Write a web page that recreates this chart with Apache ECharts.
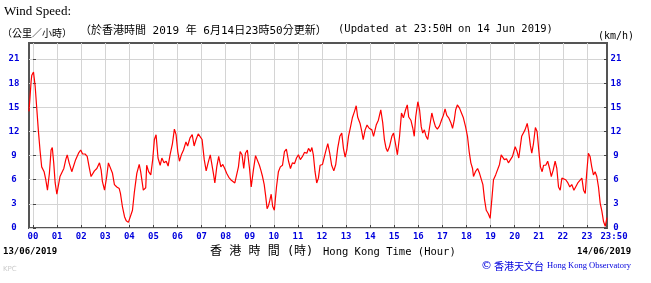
<!DOCTYPE html>
<html>
<head>
<meta charset="utf-8">
<script src="https://cdn.jsdelivr.net/npm/echarts@6/dist/echarts.min.js"></script>
<style>html,body{margin:0;padding:0;background:#fff;}#c{width:651px;height:283px;}</style>
</head>
<body>
<div id="c"></div>
<script>
// time in hours (of 14/06/2019, starting 23:50 on 13/06), wind speed km/h
const timeHours = [-0.17,-0.13,-0.08,-0.05,0.02,0.09,0.15,0.22,0.29,0.36,0.46,0.53,0.6,0.68,0.75,0.8,0.86,0.92,0.99,1.05,1.12,1.19,1.28,1.36,1.42,1.5,1.61,1.68,1.77,1.89,1.98,2.06,2.16,2.25,2.33,2.41,2.48,2.55,2.65,2.76,2.83,2.88,2.97,3.06,3.13,3.21,3.3,3.38,3.48,3.58,3.63,3.71,3.8,3.87,3.96,4.03,4.13,4.21,4.31,4.41,4.47,4.58,4.68,4.72,4.8,4.89,4.97,5.04,5.11,5.19,5.28,5.35,5.44,5.53,5.61,5.69,5.79,5.87,5.94,6.01,6.08,6.16,6.25,6.35,6.42,6.52,6.61,6.69,6.77,6.86,6.94,7.02,7.11,7.19,7.27,7.36,7.42,7.49,7.55,7.63,7.71,7.8,7.88,7.96,8.04,8.13,8.21,8.29,8.38,8.46,8.53,8.6,8.68,8.75,8.82,8.9,8.99,9.06,9.15,9.24,9.32,9.4,9.46,9.53,9.6,9.66,9.72,9.78,9.83,9.89,9.95,10.02,10.11,10.19,10.27,10.36,10.44,10.52,10.61,10.69,10.77,10.86,10.94,11.02,11.1,11.19,11.27,11.37,11.44,11.52,11.58,11.64,11.71,11.78,11.85,11.92,12.02,12.09,12.15,12.24,12.32,12.4,12.49,12.57,12.65,12.74,12.82,12.89,12.96,13.03,13.1,13.18,13.26,13.35,13.42,13.48,13.58,13.65,13.71,13.79,13.87,13.96,14.07,14.14,14.25,14.34,14.44,14.52,14.59,14.66,14.72,14.8,14.9,14.97,15.05,15.13,15.22,15.3,15.38,15.47,15.54,15.6,15.69,15.77,15.83,15.89,15.98,16.05,16.12,16.18,16.25,16.32,16.39,16.46,16.56,16.63,16.71,16.79,16.88,16.96,17.04,17.11,17.18,17.26,17.35,17.42,17.49,17.55,17.62,17.71,17.79,17.87,17.96,18.04,18.11,18.18,18.25,18.29,18.37,18.46,18.54,18.61,18.68,18.75,18.82,18.9,18.98,19.05,19.12,19.21,19.28,19.37,19.44,19.5,19.57,19.66,19.74,19.82,19.91,20.02,20.1,20.17,20.24,20.29,20.36,20.43,20.52,20.58,20.65,20.71,20.78,20.86,20.93,21.0,21.07,21.14,21.2,21.29,21.37,21.45,21.52,21.6,21.68,21.75,21.82,21.89,21.96,22.04,22.12,22.21,22.29,22.37,22.46,22.54,22.62,22.7,22.79,22.86,22.93,22.99,23.06,23.13,23.2,23.27,23.34,23.41,23.48,23.55,23.62,23.69,23.76,23.83];
const windSpeed = [14.5,16.0,18.2,19.0,19.4,17.6,15.1,12.2,9.7,7.6,7.0,6.0,4.7,6.8,9.7,10.0,8.1,5.6,4.2,4.1,6.4,6.6,7.4,8.5,9.1,8.1,7.0,7.0,8.5,9.3,9.7,9.2,9.2,8.9,7.6,6.4,6.4,7.1,7.4,8.1,7.2,5.8,4.7,6.4,8.1,8.2,6.8,5.4,5.1,4.9,4.3,2.7,1.4,0.9,0.7,0.5,2.2,4.5,6.8,7.9,7.0,4.7,5.0,7.8,7.0,6.6,8.5,11.0,11.6,8.7,7.8,8.7,8.1,8.3,7.7,9.1,10.5,12.3,11.6,9.5,8.3,9.1,9.7,10.7,10.2,11.2,11.6,10.2,11.0,11.7,11.9,11.0,8.5,7.1,8.1,9.1,8.9,6.8,5.6,7.6,8.9,7.6,7.9,7.4,6.8,6.3,6.0,6.1,5.6,5.6,7.6,9.5,9.1,7.4,9.3,9.7,7.4,5.1,7.2,9.0,8.8,7.8,7.2,6.4,5.4,4.0,2.4,2.8,3.4,4.2,2.7,2.2,5.1,7.0,7.6,7.8,9.5,9.8,8.3,7.4,8.1,8.0,8.7,9.1,8.5,8.9,9.4,9.3,9.9,9.5,10.0,9.1,7.0,5.6,6.2,7.8,7.9,7.8,9.5,10.5,9.3,7.8,7.1,7.9,9.9,11.4,11.8,9.9,8.8,9.7,11.4,12.5,13.7,14.5,15.2,13.8,13.0,12.0,11.0,12.2,12.8,12.4,12.2,11.4,12.8,13.4,14.7,13.1,11.0,9.9,9.5,10.1,11.4,11.8,10.5,9.1,11.4,14.3,13.7,14.7,15.3,13.8,13.4,12.4,11.4,13.8,15.7,14.7,12.6,11.8,12.2,11.4,11.0,12.4,14.3,13.4,12.6,12.3,12.7,13.4,14.0,14.8,14.0,13.7,13.1,12.4,13.4,14.7,15.3,14.9,14.3,13.7,12.6,11.4,9.5,8.1,7.4,6.4,7.0,7.4,6.8,7.0,5.4,3.5,2.2,1.8,1.2,3.5,6.0,6.6,6.8,7.9,9.1,9.3,8.5,8.6,8.1,8.0,8.9,10.1,9.5,8.7,10.3,11.4,11.2,12.2,13.0,12.0,10.3,9.3,10.5,12.5,12.0,9.7,7.6,7.0,7.8,7.8,8.3,7.4,6.4,7.2,8.3,7.4,5.1,4.7,6.2,6.4,6.0,5.6,5.1,5.4,4.7,4.7,5.6,5.8,6.2,4.7,4.3,6.8,9.3,8.9,7.6,6.6,7.0,6.4,5.1,3.1,2.1,0.8,0.2,1.3];
const hourTicks = [0,1,2,3,4,5,6,7,8,9,10,11,12,13,14,15,16,17,18,19,20,21,22,23];
const endHour = 23 + 50/60;
const startHour = -10/60;
const yTicks = [0,3,6,9,12,15,18,21];
const yMax = 23;

const chart = echarts.init(document.getElementById('c'), null, {renderer:'canvas'});
const blue = '#0000dd';
const gridColor = '#d4d4d4';
const labFont = {color: blue, fontFamily: 'DejaVu Sans Mono', fontWeight: 'bold', fontSize: 9};
const mono = "'DejaVu Sans Mono','Noto Sans CJK TC'";
const pad2 = v => (v < 10 ? '0' : '') + Math.round(v);

const opt = {
  animation: false,
  grid: {left: 29, right: 44, top: 43, bottom: 55, show: true, borderColor: '#555', borderWidth: 2, backgroundColor: '#fff'},
  xAxis: [{
    type: 'value', min: startHour, max: endHour,
    axisLine: {show: false},
    axisTick: {show: true, inside: true, length: 3, lineStyle: {color: '#444'}, customValues: hourTicks},
    splitLine: {show: true, lineStyle: {color: gridColor, width: 1}},
    axisLabel: Object.assign({margin: 4, customValues: hourTicks.concat([endHour]),
      formatter: v => v > 23.5 ? '{e|23:50}' : pad2(v),
      rich: {e: Object.assign({padding: [0,0,0,14]}, labFont)}}, labFont)
  }],
  yAxis: [
    {type: 'value', min: 0, max: yMax, position: 'left',
     axisLine: {show: false},
     axisTick: {show: true, inside: true, length: 3, lineStyle: {color: '#444'}, customValues: yTicks},
     splitLine: {show: true, lineStyle: {color: gridColor, width: 1}},
     axisLabel: Object.assign({margin: 15, align: 'center', customValues: yTicks}, labFont)},
    {type: 'value', min: 0, max: yMax, position: 'right',
     axisLine: {show: false},
     axisTick: {show: true, inside: true, length: 3, lineStyle: {color: '#444'}, customValues: yTicks},
     splitLine: {show: false},
     axisLabel: Object.assign({margin: 9, align: 'center', customValues: yTicks}, labFont)}
  ],
  series: [{
    type: 'line', showSymbol: false, symbol: 'none',
    data: timeHours.map((t, i) => [t, windSpeed[i]]),
    lineStyle: {color: '#ff0000', width: 1.2},
    clip: true
  }],
  graphic: [
    {type:'text', left: 4, top: 5, style:{text:'Wind Speed:', font:"13px 'Liberation Serif'", fill:'#000'}},
    {type:'text', x: 2, y: 33, style:{text:'（公里／小時）', fontFamily:'Noto Sans CJK TC', fontSize:10, fill:'#000', verticalAlign:'middle'}},
    {type:'text', x: 80, y: 31, style:{text:'（於香港時間 2019 年 6月14日23時50分更新）', fontFamily: mono, fontSize:11, fill:'#000', verticalAlign:'middle'}},
    {type:'text', x: 338, y: 29, style:{text:'(Updated at 23:50H on 14 Jun 2019)', fontFamily:'DejaVu Sans Mono', fontSize:10.5, fill:'#000', verticalAlign:'middle'}},
    {type:'text', x: 598, y: 36, style:{text:'(km/h)', fontFamily:'DejaVu Sans Mono', fontSize:10, fill:'#000', verticalAlign:'middle'}},
    {type:'text', x: 3, y: 252, style:{text:'13/06/2019', fontFamily:'DejaVu Sans Mono', fontWeight:'bold', fontSize:9, fill:'#000', verticalAlign:'middle'}},
    {type:'text', x: 577, y: 252, style:{text:'14/06/2019', fontFamily:'DejaVu Sans Mono', fontWeight:'bold', fontSize:9, fill:'#000', verticalAlign:'middle'}},
    {type:'text', x: 210, y: 252, style:{text:'香 港 時 間 (時)', fontFamily: mono, fontSize:12, fill:'#000', verticalAlign:'middle'}},
    {type:'text', x: 323, y: 252, style:{text:'Hong Kong Time (Hour)', fontFamily:'DejaVu Sans Mono', fontSize:10.5, fill:'#000', verticalAlign:'middle'}},
    {type:'text', x: 481, y: 266, style:{text:'©', fontFamily:'DejaVu Sans', fontSize:11, fill:blue, verticalAlign:'middle'}},
    {type:'text', x: 494, y: 266, style:{text:'香港天文台', fontFamily:'Noto Sans CJK TC', fontSize:10, fill:blue, verticalAlign:'middle'}},
    {type:'text', x: 547, y: 266, style:{text:'Hong Kong Observatory', fontFamily:'Liberation Serif', fontSize:8.5, fill:blue, verticalAlign:'middle'}},
    {type:'text', x: 3, y: 269, style:{text:'KPC', fontFamily:'DejaVu Sans', fontSize:7, fill:'#cccccc', verticalAlign:'middle'}}
  ]
};
chart.setOption(opt);
</script>
</body>
</html>
